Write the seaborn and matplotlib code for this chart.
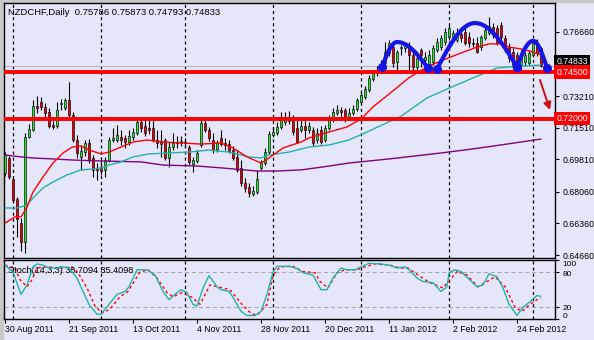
import numpy as np
import pandas as pd
import matplotlib
matplotlib.use("Agg")
import matplotlib.pyplot as plt
import matplotlib.transforms as mtransforms
import seaborn as sns

# ---------------- data ----------------
symbol = "NZDCHF,Daily"
start_date = "2011-08-30"

opens = [0.6907, 0.6988, 0.6875, 0.6768, 0.6638, 0.6536, 0.7101, 0.7139, 0.7268, 0.7289,
         0.7263, 0.7236, 0.7166, 0.7160, 0.7279, 0.7257, 0.7300, 0.7220, 0.7085, 0.6994,
         0.7020, 0.7069, 0.6988, 0.6934, 0.6940, 0.6924, 0.6977, 0.7085, 0.7085, 0.7101,
         0.7096, 0.7074, 0.7101, 0.7123, 0.7182, 0.7160, 0.7150, 0.7150, 0.7085, 0.7080,
         0.7085, 0.6988, 0.7047, 0.7069, 0.7069, 0.7074, 0.7047, 0.6956, 0.6972, 0.7058,
         0.7176, 0.7139, 0.7085, 0.7037, 0.7096, 0.7069, 0.7063, 0.7031, 0.6994, 0.6934,
         0.6854, 0.6832, 0.6794, 0.6805, 0.6934, 0.6961, 0.7020, 0.7112, 0.7123, 0.7155,
         0.7182, 0.7209, 0.7203, 0.7150, 0.7139, 0.7160, 0.7139, 0.7139, 0.7085, 0.7139,
         0.7085, 0.7150, 0.7193, 0.7230, 0.7246, 0.7246, 0.7203, 0.7230, 0.7252, 0.7289,
         0.7316, 0.7354, 0.7413, 0.7445, 0.7462, 0.7499, 0.7553, 0.7585, 0.7505, 0.7580,
         0.7580, 0.7596, 0.7542, 0.7478, 0.7569, 0.7515, 0.7488, 0.7505, 0.7569, 0.7585,
         0.7612, 0.7639, 0.7639, 0.7623, 0.7655, 0.7666, 0.7639, 0.7607, 0.7607, 0.7585,
         0.7634, 0.7661, 0.7693, 0.7688, 0.7704, 0.7634, 0.7585, 0.7558, 0.7542, 0.7488,
         0.7505, 0.7499, 0.7542, 0.7607, 0.75786]
highs = [0.7020, 0.6999, 0.6881, 0.6778, 0.6665, 0.7123, 0.7171, 0.7300, 0.7322, 0.7316,
         0.7284, 0.7257, 0.7193, 0.7289, 0.7306, 0.7311, 0.7397, 0.7236, 0.7112, 0.7058,
         0.7085, 0.7090, 0.7004, 0.6961, 0.6994, 0.6994, 0.7101, 0.7150, 0.7166, 0.7139,
         0.7112, 0.7139, 0.7150, 0.7203, 0.7198, 0.7198, 0.7193, 0.7198, 0.7139, 0.7139,
         0.7096, 0.7074, 0.7123, 0.7107, 0.7107, 0.7096, 0.7058, 0.6994, 0.7031, 0.7193,
         0.7193, 0.7155, 0.7123, 0.7085, 0.7139, 0.7096, 0.7085, 0.7053, 0.7031, 0.6977,
         0.6881, 0.6854, 0.6838, 0.6924, 0.6977, 0.7042, 0.7133, 0.7155, 0.7182, 0.7236,
         0.7236, 0.7241, 0.7220, 0.7193, 0.7193, 0.7193, 0.7182, 0.7155, 0.7150, 0.7160,
         0.7166, 0.7220, 0.7257, 0.7273, 0.7263, 0.7257, 0.7257, 0.7273, 0.7311, 0.7343,
         0.7376, 0.7435, 0.7462, 0.7483, 0.7515, 0.7612, 0.7623, 0.7607, 0.7569, 0.7596,
         0.7612, 0.7612, 0.7569, 0.7542, 0.7580, 0.7558, 0.7569, 0.7596, 0.7634, 0.7650,
         0.7688, 0.7704, 0.7677, 0.7688, 0.7677, 0.7693, 0.7666, 0.7634, 0.7639, 0.7650,
         0.7693, 0.7747, 0.7714, 0.7704, 0.7720, 0.7650, 0.7607, 0.7580, 0.7558, 0.7569,
         0.7558, 0.7569, 0.7623, 0.7628, 0.75873]
lows = [0.6891, 0.6875, 0.6751, 0.6563, 0.6488, 0.6477, 0.7096, 0.7133, 0.7230, 0.7246,
        0.7209, 0.7150, 0.7144, 0.7150, 0.7246, 0.7246, 0.7209, 0.7074, 0.6988, 0.6924,
        0.6999, 0.6961, 0.6886, 0.6870, 0.6897, 0.6886, 0.6967, 0.7074, 0.7074, 0.7058,
        0.7042, 0.7058, 0.7085, 0.7112, 0.7128, 0.7107, 0.7117, 0.7074, 0.7042, 0.6994,
        0.6977, 0.6940, 0.7031, 0.7042, 0.7053, 0.7047, 0.6950, 0.6913, 0.6961, 0.7047,
        0.7128, 0.7080, 0.7015, 0.7020, 0.7053, 0.7031, 0.7015, 0.6977, 0.6913, 0.6838,
        0.6805, 0.6778, 0.6784, 0.6794, 0.6924, 0.6950, 0.7010, 0.7101, 0.7112, 0.7144,
        0.7166, 0.7171, 0.7112, 0.7069, 0.7128, 0.7096, 0.7123, 0.7053, 0.7069, 0.7063,
        0.7074, 0.7139, 0.7182, 0.7220, 0.7193, 0.7182, 0.7193, 0.7220, 0.7241, 0.7279,
        0.7306, 0.7343, 0.7402, 0.7429, 0.7451, 0.7483, 0.7537, 0.7478, 0.7462, 0.7542,
        0.7558, 0.7462, 0.7462, 0.7462, 0.7478, 0.7483, 0.7462, 0.7488, 0.7558, 0.7569,
        0.7596, 0.7623, 0.7623, 0.7612, 0.7612, 0.7596, 0.7585, 0.7585, 0.7553, 0.7569,
        0.7623, 0.7650, 0.7634, 0.7596, 0.7623, 0.7558, 0.7505, 0.7467, 0.7472, 0.7462,
        0.7483, 0.7488, 0.7532, 0.7537, 0.74793]
closes = [0.7004, 0.6886, 0.6762, 0.6660, 0.6536, 0.7101, 0.7144, 0.7268, 0.7257, 0.7263,
          0.7230, 0.7160, 0.7155, 0.7246, 0.7284, 0.7300, 0.7220, 0.7085, 0.7015, 0.7026,
          0.7069, 0.6977, 0.6924, 0.6924, 0.6918, 0.6977, 0.7085, 0.7096, 0.7112, 0.7085,
          0.7074, 0.7107, 0.7128, 0.7182, 0.7150, 0.7123, 0.7139, 0.7085, 0.7069, 0.7063,
          0.6988, 0.7047, 0.7069, 0.7074, 0.7080, 0.7069, 0.6967, 0.6977, 0.7015, 0.7176,
          0.7139, 0.7096, 0.7031, 0.7069, 0.7063, 0.7058, 0.7026, 0.6988, 0.6924, 0.6854,
          0.6827, 0.6800, 0.6811, 0.6875, 0.6961, 0.7020, 0.7117, 0.7128, 0.7155, 0.7209,
          0.7209, 0.7187, 0.7128, 0.7074, 0.7160, 0.7139, 0.7160, 0.7069, 0.7123, 0.7074,
          0.7150, 0.7193, 0.7236, 0.7246, 0.7236, 0.7193, 0.7230, 0.7252, 0.7300, 0.7327,
          0.7359, 0.7419, 0.7445, 0.7462, 0.7494, 0.7558, 0.7607, 0.7499, 0.7558, 0.7585,
          0.7591, 0.7542, 0.7478, 0.7526, 0.7542, 0.7532, 0.7542, 0.7580, 0.7612, 0.7634,
          0.7666, 0.7688, 0.7661, 0.7661, 0.7634, 0.7607, 0.7607, 0.7601, 0.7558, 0.7639,
          0.7677, 0.7698, 0.7650, 0.7607, 0.7639, 0.7569, 0.7526, 0.7478, 0.7499, 0.7553,
          0.7542, 0.7553, 0.7607, 0.7553, 0.74833]

# moving averages (bar position, price)
ma_red_x = [0, 2.5, 4, 5.5, 7, 9.5, 12, 14.5, 16.8, 19, 21, 24, 26, 29, 32, 35.5, 39.5, 44,
            49, 54, 57, 60.5, 64, 66, 69.5, 74, 76, 81, 85.5, 89, 92, 96, 101, 105.5, 109.5,
            114, 118, 121, 124, 126, 129, 132, 134]
ma_red_y = [0.6638, 0.6671, 0.6671, 0.6724, 0.6805, 0.6886, 0.6961, 0.7015, 0.7047, 0.7053,
            0.7031, 0.7010, 0.7020, 0.7047, 0.7074, 0.7085, 0.7074, 0.7069, 0.7063, 0.7069,
            0.7042, 0.6994, 0.6961, 0.6988, 0.7042, 0.7074, 0.7096, 0.7128, 0.7155, 0.7198,
            0.7263, 0.7332, 0.7420, 0.7478, 0.7515, 0.7553, 0.7585, 0.7602, 0.7602, 0.7585,
            0.7575, 0.7558, 0.7542]
ma_teal_x = [0, 3, 5.5, 7, 9.5, 12, 15.5, 19, 22, 24, 26, 29, 32, 36, 41, 46, 51, 56, 61, 64,
             66, 71, 76, 81, 86, 90, 97, 98.75, 105.5, 110.5, 117, 123, 128.75, 134]
ma_teal_y = [0.6719, 0.6719, 0.6735, 0.6773, 0.6827, 0.6859, 0.6897, 0.6924, 0.6929, 0.6934,
             0.6950, 0.6967, 0.6994, 0.7010, 0.7015, 0.7020, 0.7031, 0.7020, 0.6994, 0.6988,
             0.7004, 0.7020, 0.7047, 0.7058, 0.7085, 0.7123, 0.7193, 0.7209, 0.7311, 0.7359,
             0.7419, 0.7472, 0.7483, 0.7488]
ma_purple_x = [0, 4, 7, 12, 17, 24, 34, 39.5, 48, 54.5, 63, 68, 74, 79.5, 86, 96, 109, 117,
               125.5, 134]
ma_purple_y = [0.7004, 0.6994, 0.6988, 0.6983, 0.6977, 0.6972, 0.6967, 0.6950, 0.6945, 0.6934,
               0.6918, 0.6918, 0.6924, 0.6940, 0.6961, 0.6983, 0.7015, 0.7037, 0.7063, 0.7090]

# stochastic oscillator (14,3,3)
stoch_k_x = [0, 2, 4, 5.5, 7, 8, 9.5, 11, 13, 14.5, 16, 18, 19.5, 21, 23, 24, 26, 28, 30, 31,
             33, 35.5, 37.5, 39.5, 41, 42.5, 44, 45.5, 47, 48, 49.5, 51, 53, 54, 56, 57, 59,
             60.5, 62.5, 64, 65.5, 67, 68, 71, 73, 74.5, 77, 79, 80.5, 82, 84, 85.5, 87.5, 89,
             91, 94, 96, 98, 100, 101, 103, 104.5, 107, 109, 110.5, 111, 112.5, 114, 118,
             119.5, 121, 123, 124.5, 126, 128, 129.5, 131, 133, 134]
stoch_k_y = [92, 80, 42, 58, 89, 94, 92, 87, 87, 89, 87, 70, 47, 25, 8, 8, 25, 42, 47, 55,
             84, 84, 75, 47, 33, 42, 50, 45, 25, 22, 53, 74, 55, 50, 47, 37, 13,
             6, 6, 13, 42, 80, 90, 90, 86, 79, 75, 50, 50, 70, 87, 84, 84, 89,
             95, 94, 92, 87, 89, 84, 70, 64, 62, 47, 55, 79, 84, 81, 55,
             58, 77, 72, 53, 25, 6, 20, 28, 40, 38.7094]
stoch_d_x = [0, 2.5, 3.75, 5.5, 6.75, 8, 10.5, 13.75, 16.75, 18.25, 20.5, 22.5, 24.25, 26.25,
             28.75, 30.75, 33.75, 35.75, 38, 40.5, 42, 44.25, 46.75, 48.75, 51.25, 53.25,
             56.25, 59.25, 61.75, 63.25, 65.5, 67, 68.75, 72, 74.5, 77.5, 78.75, 80.75, 83,
             85, 88, 90, 92.5, 96.25, 98.75, 100.75, 103.25, 106.25, 109.5, 111.25, 113,
             115.5, 118.25, 120.5, 122.5, 125, 127.5, 129.25, 131.25, 133, 134]
stoch_d_y = [92, 87, 67, 55, 67, 87, 89, 87, 89, 79, 53, 22, 10, 17,
             38, 47, 80, 84, 70, 45, 38, 45, 37, 25, 58, 55,
             50, 25, 8, 8, 25, 75, 89, 90, 81, 79, 64, 53, 79,
             84, 84, 89, 94, 92, 87, 87, 75, 62, 53, 67, 81,
             75, 55, 64, 72, 55, 20, 13, 25, 33, 35.4098]
stoch_label = "Stoch(14,3,3) 38.7094 35.4098"
stoch_levels = [20, 80]

# horizontal levels and the head & shoulders sketch
levels = [0.7450, 0.7200]
level_labels = ["0.74500", "0.72000"]
last_price = 0.74833
price_ticks = [0.76660, 0.73210, 0.71510, 0.69810, 0.68060, 0.66360, 0.64660]
# (start bar, start price, peak bar, peak price, end bar, end price)
arcs = [(94.25, 0.7478, 98.0, 0.7612, 105.75, 0.7472),
        (108.0, 0.7467, 117.5, 0.7714, 128.0, 0.7478),
        (128.0, 0.7478, 132.0, 0.7618, 135.5, 0.7472)]
arrow_from = (133.75, 0.7408)
arrow_to = (136.25, 0.7246)

# ---------------- style ----------------
sns.set_theme(style="white")
plt.rcParams["font.family"] = ["Liberation Sans", "DejaVu Sans"]
plt.rcParams["lines.scale_dashes"] = False

W, H = 594, 340
BG = "#E6E6FA"
fig = plt.figure(figsize=(W / 100, H / 100), dpi=100, facecolor=BG)
ax = fig.add_axes([3.5 / W, 1 - 258 / H, 551.5 / W, 255 / H])
ax2 = fig.add_axes([3.5 / W, 1 - 319 / H, 551.5 / W, 59 / H])
for a in (ax, ax2):
    a.set_facecolor(BG)
    for s in a.spines.values():
        s.set_color("black")
        s.set_linewidth(1.0)

# window border strips
fig.patches.append(plt.Rectangle((0, 0), 2.5 / W, 1, transform=fig.transFigure,
                                 color="#C8C8C8", zorder=-1))
fig.patches.append(plt.Rectangle((0, 1 - 2 / H), 1, 2 / H, transform=fig.transFigure,
                                 color="#C8C8C8", zorder=-1))

n = len(closes)
idx = np.arange(n)
dates = pd.bdate_range(start_date, periods=n)
o, h, l, c = (np.asarray(v) for v in (opens, highs, lows, closes))
up = c >= o

XL = (-0.375, 137.5)
ax.set_xlim(*XL)
ax2.set_xlim(*XL)
ax.set_ylim(0.6450, 0.7822)
ax2.set_ylim(1.5, 100.7)

# month separators
seps = [i for i in range(1, n) if dates[i].month != dates[i - 1].month]
for a in (ax, ax2):
    for s in seps:
        a.axvline(s, color="black", lw=0.9, linestyle=(0, (2.2, 2.2)), zorder=1)

# candles
ax.vlines(idx, l, h, color="black", lw=0.8, zorder=3)
ax.bar(idx[up], (c - o)[up], bottom=o[up], width=0.74, color="#2EE62E",
       edgecolor="black", linewidth=0.45, zorder=4)
ax.bar(idx[~up], (o - c)[~up], bottom=c[~up], width=0.74, color="#EE0000",
       edgecolor="black", linewidth=0.45, zorder=4)

# moving averages
sns.lineplot(x=ma_purple_x, y=ma_purple_y, ax=ax, color="#800080", lw=1.0, zorder=5)
sns.lineplot(x=ma_teal_x, y=ma_teal_y, ax=ax, color="#20B2AA", lw=1.0, zorder=5)
sns.lineplot(x=ma_red_x, y=ma_red_y, ax=ax, color="#FF0000", lw=1.0, zorder=5)

# bid line and horizontal levels
ax.axhline(last_price, color="#B8B8B8", lw=0.8, zorder=2)
for lv in levels:
    ax.axhline(lv, color="#FF0000", lw=2.8, zorder=6)

# head & shoulders sketch
for x0, y0, xp, yp, x1, y1 in arcs:
    t = np.linspace(0, 1, 40)
    xs = np.concatenate([x0 + (xp - x0) * t, xp + (x1 - xp) * t[1:]])
    ys = np.concatenate([y0 + (yp - y0) * np.sin(np.pi / 2 * t),
                         y1 + (yp - y1) * np.cos(np.pi / 2 * t[1:])])
    ax.plot(xs, ys, color="#1414E6", lw=3.0, solid_capstyle="round", zorder=7)
    ax.plot([x0, x1], [y0, y1], "o", color="#1414E6", ms=5.5, zorder=7)

ax.annotate("", xy=arrow_to, xytext=arrow_from,
            arrowprops=dict(arrowstyle="-|>", color="#CC1010", lw=1.4,
                            mutation_scale=11, shrinkA=0, shrinkB=0), zorder=8)

# price axis on the right
ax.yaxis.tick_right()
ax.set_yticks(price_ticks)
ax.set_yticklabels([f"{v:.5f}" for v in price_ticks])
ax.tick_params(axis="y", which="both", right=True, length=3, width=0.8,
               direction="out", pad=2.5, labelsize=6.3, colors="black")
ax.set_xticks([])
ax.set_xlabel("")
ax.set_ylabel("")

btrans = mtransforms.blended_transform_factory(ax.transAxes, ax.transData)
# the bid label is lifted so it sits just above the level tag
bid_trans = btrans + mtransforms.ScaledTranslation(0, 4.5 / 100, fig.dpi_scale_trans)
ax.text(1.003, last_price, f"{last_price:.5f}", transform=bid_trans, ha="left",
        va="center", fontsize=6.3, color="white", zorder=9, clip_on=False,
        bbox=dict(boxstyle="square,pad=0.25", fc="black", ec="none"))
for lv, lab in zip(levels, level_labels):
    ax.text(1.003, lv, lab, transform=btrans, ha="left", va="center", fontsize=6.3,
            color="white", zorder=10, clip_on=False,
            bbox=dict(boxstyle="square,pad=0.25", fc="#FF0000", ec="none"))

last = n - 1
ax.text(0.008, 0.962,
        f"{symbol}  {opens[last]:.5f} {highs[last]:.5f} {lows[last]:.5f} {closes[last]:.5f}",
        transform=ax.transAxes, ha="left", va="center", fontsize=6.8, color="black")

# stochastic panel
for lv in stoch_levels:
    ax2.axhline(lv, color="#A8A8A8", lw=0.8, linestyle=(0, (3, 2)), zorder=1)
sns.lineplot(x=stoch_k_x, y=stoch_k_y, ax=ax2, color="#20B2AA", lw=1.0, zorder=4)
sns.lineplot(x=stoch_d_x, y=stoch_d_y, ax=ax2, color="#FF0000", lw=1.0,
             linestyle=(0, (2, 2)), zorder=3)
ax2.text(0.008, 0.83, stoch_label, transform=ax2.transAxes, ha="left", va="center",
         fontsize=6.6, color="black")

ax2.yaxis.tick_right()
ax2.set_yticks([0, 20, 80, 100])
ax2.set_yticklabels(["0", "20", "80", "100"])
ax2.tick_params(axis="y", right=True, length=3, width=0.8, direction="out", pad=2.5,
                labelsize=6.0, colors="black")
tl = ax2.get_yticklabels()
tl[0].set_transform(tl[0].get_transform() +
                    mtransforms.ScaledTranslation(0, 3.5 / 100, fig.dpi_scale_trans))
tl[3].set_transform(tl[3].get_transform() +
                    mtransforms.ScaledTranslation(0, -3.5 / 100, fig.dpi_scale_trans))
tl[2].set_transform(tl[2].get_transform() +
                    mtransforms.ScaledTranslation(0, -1.0 / 100, fig.dpi_scale_trans))
ax2.set_ylabel("")

label_pos = list(range(0, n, 16))
ax2.set_xticks(label_pos)
ax2.set_xticklabels([f"{dates[i].day} {dates[i].strftime('%b %Y')}" for i in label_pos],
                    ha="left")
ax2.tick_params(axis="x", bottom=True, length=3, width=0.8, direction="out", pad=1.5,
                labelsize=6.3, colors="black")
ax2.set_xlabel("")

fig.savefig("out.png", dpi=100, facecolor=BG)
